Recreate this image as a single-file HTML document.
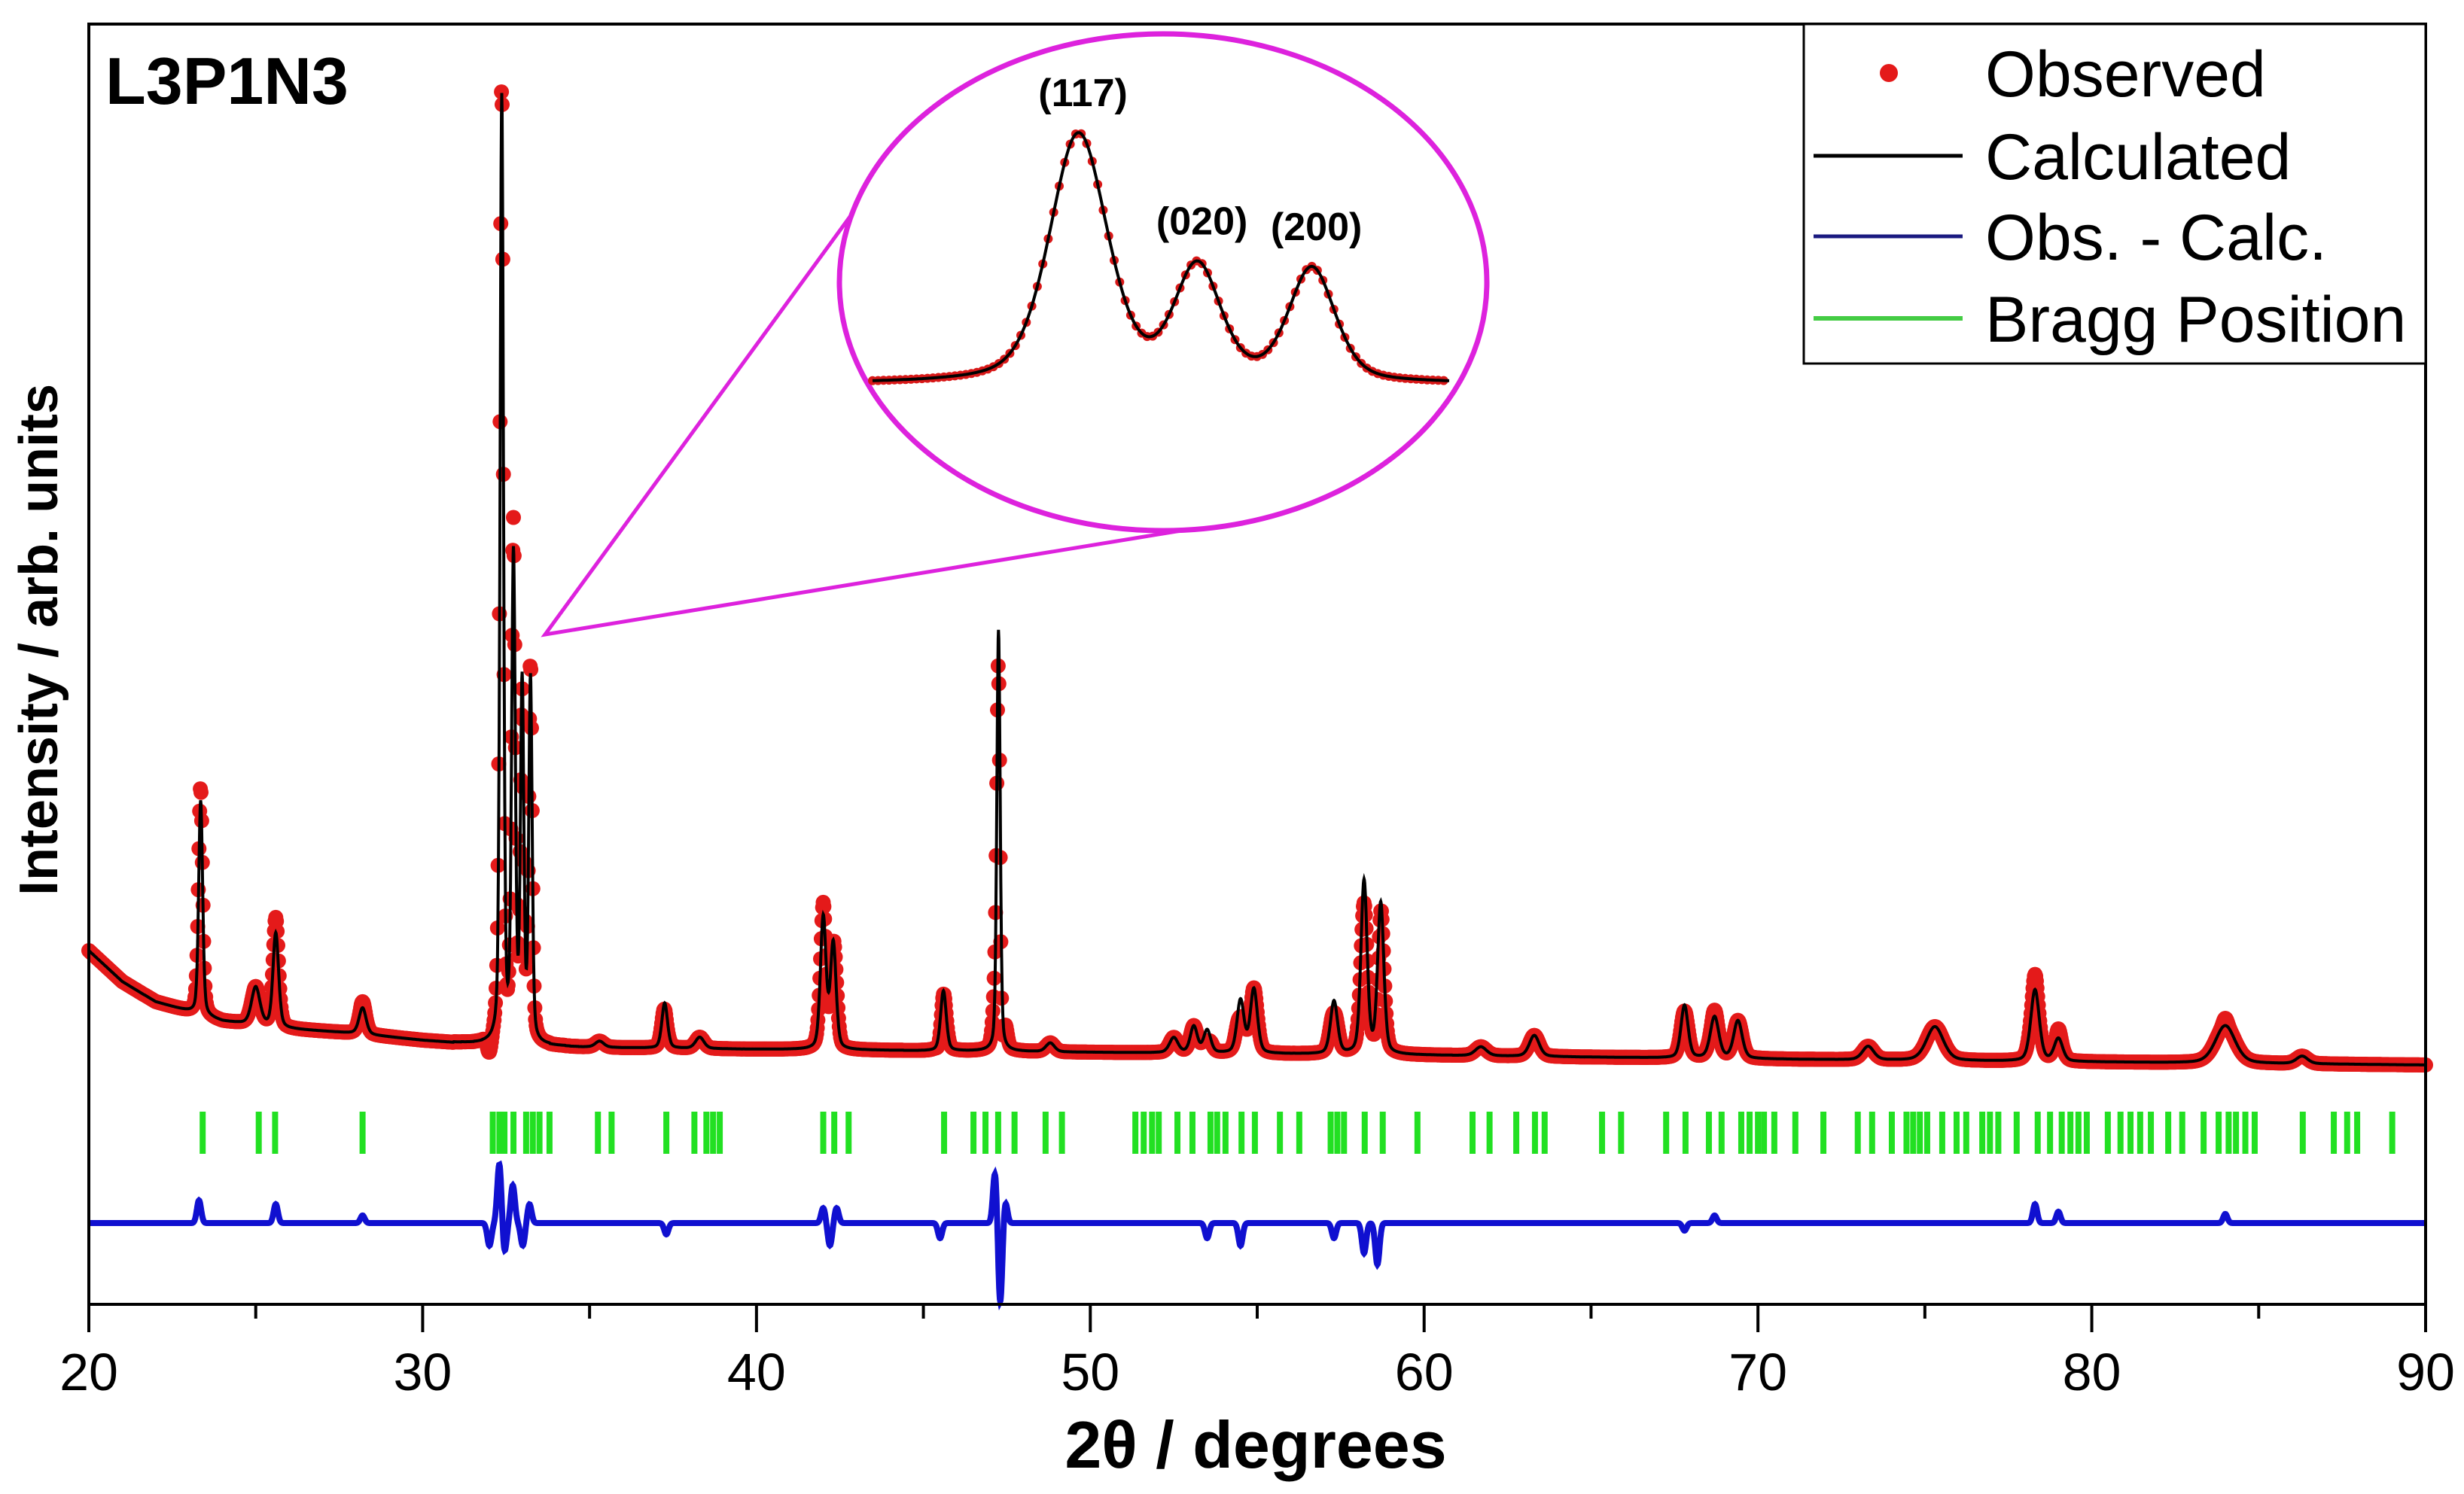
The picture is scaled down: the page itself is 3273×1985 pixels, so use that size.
<!DOCTYPE html>
<html><head><meta charset="utf-8"><style>
html,body{margin:0;padding:0;background:#fff}
svg{display:block}
text{font-family:"Liberation Sans",Arial,sans-serif}
</style></head><body>
<svg id="chart" width="3273" height="1985" viewBox="0 0 3273 1985" xmlns="http://www.w3.org/2000/svg">
<rect width="3273" height="1985" fill="#fff"/>
<g id="plot"></g>
<g id="inset"></g>
<g id="axes"></g>
<text x="140" y="138" font-size="88" font-weight="bold">L3P1N3</text>
<text x="1668" y="1950" font-size="88" font-weight="bold" text-anchor="middle">2θ / degrees</text>
<text transform="translate(76,850) rotate(-90)" font-size="72" font-weight="bold" text-anchor="middle">Intensity / arb. units</text>
<g>
  <rect x="2396" y="32" width="826" height="451" fill="#fff" stroke="#000" stroke-width="3"/>
  <circle cx="2509" cy="97" r="12" fill="#e41a1a"/>
  <text x="2637" y="128" font-size="86">Observed</text>
  <line x1="2409" y1="207" x2="2607" y2="207" stroke="#000" stroke-width="5"/>
  <text x="2637" y="238" font-size="86">Calculated</text>
  <line x1="2409" y1="314" x2="2607" y2="314" stroke="#1a1a80" stroke-width="5"/>
  <text x="2637" y="345" font-size="86">Obs. - Calc.</text>
  <line x1="2409" y1="423" x2="2607" y2="423" stroke="#44cc44" stroke-width="6"/>
  <text x="2637" y="454" font-size="86">Bragg Position</text>
</g>
</svg>
<script>
// ---- data ----
const peakPos    = [23.35,25.0,25.6,28.2,32.37,32.72,32.98,33.23,35.3,37.25,38.3,42.0,42.3,45.6,47.25,48.8,52.5,53.1,53.5,54.5,54.9,57.3,58.2,58.7,61.7,63.3,67.8,68.7,69.4,73.3,75.3,78.3,79.0,84.0,86.3];
const peakHeight = [285,50,125,35,1255,640,470,480,8,60,15,175,140,80,560,12,20,35,30,70,85,70,230,200,12,28,70,55,50,18,45,95,30,50,10];
const peakWidth  = [0.14,0.3,0.2,0.25,0.12,0.13,0.12,0.12,0.3,0.2,0.3,0.2,0.2,0.2,0.12,0.3,0.3,0.25,0.25,0.25,0.25,0.25,0.22,0.22,0.4,0.35,0.25,0.3,0.3,0.4,0.6,0.3,0.3,0.7,0.4];
const bgX = [20,21,22,24,26,28,30,32,36,40,50,60,70,80,90];
const bgV = [470,429,402,376,366,360,351,345,341,339,335,331,326,322,318];
const diffPos = [23.3,25.6,28.2,32.0,32.3,32.45,32.7,33.0,33.2,37.3,42.0,42.2,42.4,45.5,47.15,47.3,47.45,53.5,54.5,57.3,58.2,58.6,67.8,68.7,78.3,79.0,84.0];
const diffAmp = [30,25,10,-30,80,-40,50,-30,25,-15,20,-30,20,-20,70,-110,30,-20,-30,-20,-40,-55,-10,10,25,15,12];
const braggPos = [23.41,25.09,25.58,28.2,32.1,32.3,32.45,32.72,33.1,33.3,33.5,33.8,35.25,35.66,37.3,38.14,38.5,38.7,38.9,42.0,42.33,42.76,
 45.62,46.5,46.86,47.24,47.73,48.66,49.15,51.35,51.6,51.85,52.05,52.61,53.06,53.6,53.8,54.05,54.53,54.93,55.68,56.26,57.2,57.4,57.6,58.22,58.76,59.8,61.45,61.96,62.76,63.32,63.61,65.33,65.9,
 67.25,67.83,68.53,68.91,69.5,69.75,70.0,70.18,70.49,71.12,71.96,72.99,73.42,74.01,74.45,74.65,74.85,75.07,75.52,75.95,76.24,76.72,76.95,77.2,77.75,78.38,78.75,79.1,79.36,79.6,79.85,80.48,80.86,81.16,81.45,81.77,82.29,82.71,83.35,83.8,84.1,84.32,84.6,84.88,86.32,87.25,87.65,87.95,89.0];
const xTicks = [20,30,40,50,60,70,80,90];
const insetPos = [32.72,32.98,33.23];
const insetHeight = [330,150,150];
const insetWidth = [0.15,0.12,0.12];
const insetLabels = ["(117)","(020)","(200)"];

// ---- scales ----
const X0=118,X1=3222,Y0=32,Y1=1733,D0=20,D1=90;
const xs = d => X0 + (d-D0)*(X1-X0)/(D1-D0);
const ys = v => Y1 - v;
const DIFF0 = 1625;
const yd = v => DIFF0 - v;
const NS='http://www.w3.org/2000/svg';
function mk(tag, attrs, parent){const e=document.createElementNS(NS,tag);for(const k in attrs)e.setAttribute(k,attrs[k]);parent.appendChild(e);return e;}
function pv(x,c,h,w,eta){const u=(x-c)/w;return h*(eta/(1+4*u*u)+(1-eta)*Math.exp(-2.7726*u*u));}
function bg(x){for(let i=0;i<bgX.length-1;i++){if(x<=bgX[i+1]){const t=(x-bgX[i])/(bgX[i+1]-bgX[i]);return bgV[i]+t*(bgV[i+1]-bgV[i]);}}return bgV[bgV.length-1];}
function calc(x){let s=bg(x);for(let i=0;i<peakPos.length;i++){if(Math.abs(x-peakPos[i])<peakWidth[i]*12)s+=pv(x,peakPos[i],peakHeight[i],peakWidth[i],0.35);}return s;}
function diff(x){let s=0;for(let i=0;i<diffPos.length;i++){const u=(x-diffPos[i])/0.09;s+=diffAmp[i]*Math.exp(-u*u);}return s;}

const plot=document.getElementById('plot');
const bg_=mk('g',{},plot);


braggPos.forEach(p=>{const l=mk('line',{x1:xs(p),x2:xs(p),y1:1477,y2:1533,stroke:'#22e022','stroke-width':8},bg_);

});
let dp='';for(let x=D0;x<=D1+1e-9;x+=0.01){dp+=(dp?'L':'M')+xs(x).toFixed(1)+','+yd(diff(x)).toFixed(1);}
const dl=mk('path',{d:dp,fill:'none',stroke:'#1010d0','stroke-width':8},plot);


const og=mk('g',{fill:'#e41a1a'},plot);


for(let x=D0;x<=D1+1e-9;x+=0.02){const c=mk('circle',{cx:xs(x).toFixed(1),cy:ys(calc(x)+0.8*diff(x)).toFixed(1),r:10},og);

}
let cp='';for(let x=D0;x<=D1+1e-9;x+=0.01){cp+=(cp?'L':'M')+xs(x).toFixed(1)+','+ys(calc(x)).toFixed(1);}
const cl=mk('path',{d:cp,fill:'none',stroke:'#000','stroke-width':4},plot);



const inset=document.getElementById('inset');
const IX0=1159,IX1=1925,ID0=32.27,ID1=33.53,IBASE=510;
const ixs=d=>IX0+(d-ID0)*(IX1-IX0)/(ID1-ID0);
const iys=v=>IBASE-v;
function icalc(x){let s=0;for(let i=0;i<insetPos.length;i++)s+=pv(x,insetPos[i],insetHeight[i],insetWidth[i],0.4);return s;}
const conn=mk('path',{d:'M1134,281 L724,843 L1612,698',fill:'none',stroke:'#dd22dd','stroke-width':5},inset);


const ell=mk('ellipse',{cx:1545,cy:375,rx:430,ry:330,fill:'#fff',stroke:'#dd22dd','stroke-width':7},inset);


const ig=mk('g',{fill:'#d81818'},inset);


for(let x=ID0;x<=ID1;x+=0.012){const c=mk('circle',{cx:ixs(x).toFixed(1),cy:iys(icalc(x)).toFixed(1),r:6},ig);

}
let ip='';for(let x=ID0;x<=ID1+1e-9;x+=0.004){ip+=(ip?'L':'M')+ixs(x).toFixed(1)+','+iys(icalc(x)).toFixed(1);}
const il=mk('path',{d:ip,fill:'none',stroke:'#000','stroke-width':4},inset);


insetLabels.forEach((t,i)=>{const tx=mk('text',{x:ixs(insetPos[i])+6,y:iys(icalc(insetPos[i]))-35,'font-size':52,'font-weight':'bold','text-anchor':'middle'},inset);tx.textContent=t;

});

const ax=document.getElementById('axes');
const fr=mk('rect',{x:X0,y:Y0,width:X1-X0,height:Y1-Y0,fill:'none',stroke:'#000','stroke-width':4},ax);


xTicks.forEach(t=>{const l=mk('line',{x1:xs(t),x2:xs(t),y1:Y1,y2:Y1+37,stroke:'#000','stroke-width':4},ax);


const tx=mk('text',{x:xs(t),y:1847,'font-size':70,'text-anchor':'middle'},ax);tx.textContent=t;


if(t<D1){const m=mk('line',{x1:xs(t+5),x2:xs(t+5),y1:Y1,y2:Y1+19,stroke:'#000','stroke-width':4},ax);

}});
</script>
</body></html>
